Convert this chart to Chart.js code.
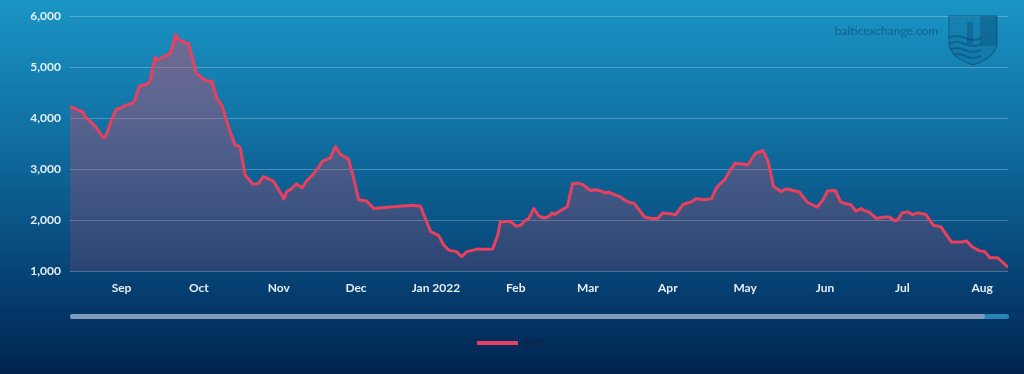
<!DOCTYPE html>
<html>
<head>
<meta charset="utf-8">
<script src="https://cdn.jsdelivr.net/npm/chart.js@4"></script>
<style>
  html, body { margin: 0; padding: 0; background: #00244f; }
  #wrap { width: 1024px; height: 374px; position: relative; }
</style>
</head>
<body>
<div id="wrap"><canvas id="bdiChart" width="1024" height="374"></canvas></div>
<script>
// BDI, Aug 2021 - Aug 2022
const dates = [
  '2021-08-12','2021-08-15','2021-08-17','2021-08-18','2021-08-20','2021-08-22','2021-08-25','2021-08-26','2021-08-28','2021-08-30',
  '2021-09-01','2021-09-02','2021-09-05','2021-09-06','2021-09-08','2021-09-11','2021-09-12','2021-09-14','2021-09-15','2021-09-18',
  '2021-09-20','2021-09-22','2021-09-23','2021-09-25','2021-09-27','2021-09-28','2021-09-30','2021-10-03','2021-10-05','2021-10-06',
  '2021-10-08','2021-10-10','2021-10-13','2021-10-15','2021-10-17','2021-10-19','2021-10-22','2021-10-24','2021-10-26','2021-10-28',
  '2021-10-30','2021-11-03','2021-11-04','2021-11-06','2021-11-08','2021-11-10','2021-11-12','2021-11-14','2021-11-16','2021-11-18',
  '2021-11-21','2021-11-23','2021-11-25','2021-11-28','2021-11-30','2021-12-02','2021-12-05','2021-12-08','2021-12-11','2021-12-18',
  '2021-12-23','2021-12-26','2021-12-30','2022-01-02','2022-01-04','2022-01-06','2022-01-09','2022-01-11','2022-01-13','2022-01-17',
  '2022-01-19','2022-01-23','2022-01-25','2022-01-26','2022-01-30','2022-02-01','2022-02-03','2022-02-04','2022-02-06','2022-02-08',
  '2022-02-10','2022-02-12','2022-02-14','2022-02-15','2022-02-16','2022-02-18','2022-02-21','2022-02-23','2022-02-25','2022-02-27',
  '2022-03-02','2022-03-04','2022-03-06','2022-03-08','2022-03-09','2022-03-12','2022-03-13','2022-03-16','2022-03-19','2022-03-23',
  '2022-03-26','2022-03-28','2022-03-30','2022-04-02','2022-04-04','2022-04-07','2022-04-10','2022-04-12','2022-04-15','2022-04-18',
  '2022-04-20','2022-04-23','2022-04-27','2022-04-30','2022-05-02','2022-05-05','2022-05-08','2022-05-10','2022-05-12','2022-05-15',
  '2022-05-17','2022-05-22','2022-05-25','2022-05-27','2022-05-29','2022-05-31','2022-06-02','2022-06-05','2022-06-07','2022-06-09',
  '2022-06-11','2022-06-13','2022-06-15','2022-06-16','2022-06-18','2022-06-21','2022-06-24','2022-06-26','2022-06-28','2022-06-29',
  '2022-07-01','2022-07-03','2022-07-05','2022-07-07','2022-07-10','2022-07-13','2022-07-16','2022-07-20','2022-07-24','2022-07-26',
  '2022-07-28','2022-07-31','2022-08-02','2022-08-04','2022-08-07','2022-08-11'
];
const bdiValues = [
  4230, 4160, 4120, 4020, 3930, 3830, 3610, 3660, 3950, 4180,
  4200, 4240, 4290, 4340, 4630, 4670, 4720, 5190, 5140, 5220,
  5280, 5640, 5540, 5500, 5460, 5280, 4890, 4760, 4720, 4730,
  4390, 4240, 3750, 3480, 3430, 2880, 2700, 2710, 2850, 2810,
  2760, 2420, 2550, 2620, 2710, 2630, 2780, 2875, 3005, 3155,
  3220, 3440, 3285, 3200, 2840, 2400, 2375, 2225, 2240, 2270,
  2290, 2270, 1770, 1700, 1510, 1410, 1380, 1280, 1380, 1430,
  1425, 1430, 1700, 1965, 1975, 1880, 1900, 1965, 2030, 2225,
  2075, 2040, 2075, 2140, 2110, 2175, 2260, 2710, 2725, 2695,
  2580, 2595, 2570, 2530, 2550, 2485, 2470, 2367, 2322, 2060,
  2030, 2030, 2140, 2125, 2105, 2310, 2355, 2420, 2400, 2420,
  2645, 2790, 3115, 3100, 3080, 3310, 3365, 3135, 2660, 2560,
  2615, 2550, 2355, 2300, 2255, 2385, 2570, 2580, 2355, 2320,
  2300, 2175, 2225, 2190, 2160, 2030, 2060, 2060, 1985, 1995,
  2145, 2160, 2105, 2140, 2115, 1900, 1865, 1570, 1570, 1590,
  1475, 1395, 1380, 1260, 1260, 1075
];
const monthTicks = ['2021-09-01','2021-10-01','2021-11-01','2021-12-01','2022-01-01','2022-02-01',
  '2022-03-01','2022-04-01','2022-05-01','2022-06-01','2022-07-01','2022-08-01'];
const monthLabels = ['Sep','Oct','Nov','Dec','Jan 2022','Feb','Mar','Apr','May','Jun','Jul','Aug'];
const yTicks = [1000, 2000, 3000, 4000, 5000, 6000];
const xStart = '2021-08-12';
const xEnd = '2022-08-11';

// day number from a yyyy-mm-dd string
function dayNum(s) {
  const p = s.split('-').map(Number);
  return Date.UTC(p[0], p[1] - 1, p[2]) / 864e5;
}

const points = dates.map((d, i) => ({ x: dayNum(d), y: bdiValues[i] }));
const tickDays = monthTicks.map(dayNum);

const lineColor = '#e8405e';
const labelColor = '#e4eef5';

const backdrop = {
  id: 'backdrop',
  beforeDraw(chart) {
    const ctx = chart.ctx;
    const g = ctx.createLinearGradient(0, 0, 0, chart.height);
    g.addColorStop(0, '#1a95c5');
    g.addColorStop(0.4, '#0f6b9d');
    g.addColorStop(0.8, '#053b6d');
    g.addColorStop(1, '#00244f');
    ctx.save();
    ctx.fillStyle = g;
    ctx.fillRect(0, 0, chart.width, chart.height);
    ctx.restore();
  },
  beforeDatasetsDraw(chart) {
    // watermark
    const ctx = chart.ctx;
    ctx.save();
    ctx.fillStyle = 'rgba(8,60,100,0.5)';
    ctx.font = '12px Lato';
    ctx.textAlign = 'right';
    ctx.textBaseline = 'middle';
    ctx.fillText('balticexchange.com', 938, 31);
    // shield
    ctx.beginPath();
    ctx.moveTo(949, 16);
    ctx.lineTo(997, 16);
    ctx.lineTo(997, 44);
    ctx.quadraticCurveTo(995, 58, 973, 65);
    ctx.quadraticCurveTo(951, 58, 949, 44);
    ctx.closePath();
    ctx.fillStyle = 'rgba(8,60,100,0.15)';
    ctx.fill();
    ctx.strokeStyle = 'rgba(8,60,100,0.4)';
    ctx.lineWidth = 1.5;
    ctx.stroke();
    ctx.clip();
    ctx.fillStyle = 'rgba(8,60,100,0.3)';
    ctx.fillRect(980, 16, 17, 30);
    ctx.fillRect(967, 22, 6, 22);
    ctx.strokeStyle = 'rgba(8,60,100,0.4)';
    ctx.lineWidth = 2;
    for (let k = 0; k < 4; k++) {
      const yy = 38 + k * 6;
      ctx.beginPath();
      ctx.moveTo(949, yy);
      ctx.quadraticCurveTo(957, yy - 4, 965, yy);
      ctx.quadraticCurveTo(973, yy + 4, 981, yy);
      ctx.stroke();
    }
    ctx.restore();
  },
  afterDraw(chart) {
    const ctx = chart.ctx;
    ctx.save();
    // scrollbar
    ctx.fillStyle = '#2686b6';
    ctx.beginPath();
    ctx.roundRect(70, 314, 939, 5, 2.5);
    ctx.fill();
    ctx.fillStyle = '#7f9dba';
    ctx.beginPath();
    ctx.roundRect(70, 314, 915, 5, 2.5);
    ctx.fill();
    // legend
    ctx.strokeStyle = lineColor;
    ctx.lineWidth = 4;
    ctx.beginPath();
    ctx.moveTo(477, 343);
    ctx.lineTo(518, 343);
    ctx.stroke();
    ctx.fillStyle = '#0b2344';
    ctx.font = '12px Lato';
    ctx.textBaseline = 'middle';
    ctx.fillText(chart.data.datasets[0].label, 523, 343);
    ctx.restore();
  }
};

new Chart(document.getElementById('bdiChart'), {
  type: 'line',
  data: {
    datasets: [{
      label: 'BDI',
      data: points,
      borderColor: lineColor,
      borderWidth: 3,
      borderJoinStyle: 'round',
      pointRadius: 0,
      tension: 0,
      fill: 'start',
      backgroundColor(context) {
        const area = context.chart.chartArea;
        if (!area) return 'rgba(232,64,94,0.3)';
        const g = context.chart.ctx.createLinearGradient(0, area.top, 0, area.bottom);
        g.addColorStop(0, 'rgba(232,64,94,0.45)');
        g.addColorStop(1, 'rgba(232,64,94,0.15)');
        return g;
      }
    }]
  },
  options: {
    responsive: false,
    animation: false,
    layout: { padding: { left: 0, right: 16, top: 15, bottom: 73 } },
    plugins: {
      legend: { display: false },
      tooltip: { enabled: false }
    },
    scales: {
      x: {
        type: 'linear',
        min: dayNum(xStart),
        max: dayNum(xEnd),
        afterFit(scale) { scale.height = 30; },
        afterBuildTicks(scale) {
          scale.ticks = tickDays.map(v => ({ value: v }));
        },
        grid: { display: false, drawTicks: false },
        border: { display: false },
        ticks: {
          autoSkip: false,
          maxRotation: 0,
          padding: 10,
          color: labelColor,
          font: { family: 'Lato', size: 12, weight: 'bold' },
          callback(value) {
            const i = tickDays.indexOf(value);
            return i >= 0 ? monthLabels[i] : '';
          }
        }
      },
      y: {
        min: yTicks[0],
        max: yTicks[yTicks.length - 1],
        afterFit(scale) { scale.width = 70; },
        afterBuildTicks(scale) {
          scale.ticks = yTicks.map(v => ({ value: v }));
        },
        grid: { color: 'rgba(255,255,255,0.25)', drawTicks: false },
        border: { display: false },
        ticks: {
          padding: 9,
          color: labelColor,
          font: { family: 'Lato', size: 12, weight: 'bold' },
          callback: v => v.toLocaleString('en-US')
        }
      }
    }
  },
  plugins: [backdrop]
});
</script>
</body>
</html>
